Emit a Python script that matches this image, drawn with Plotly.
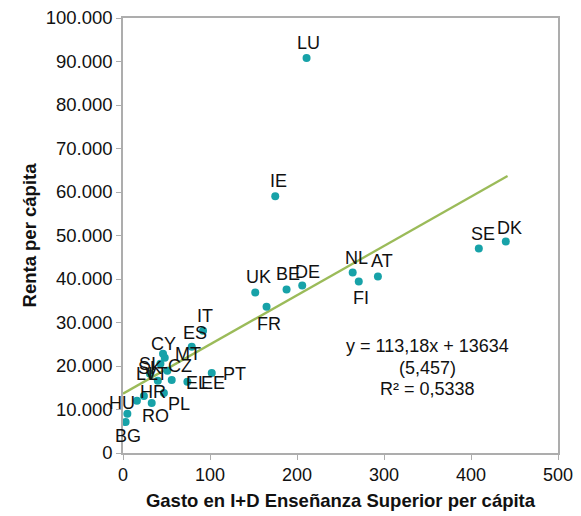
import plotly.graph_objects as go

countries = ["LU", "IE", "DK", "SE", "NL", "AT", "FI", "DE", "BE", "UK", "FR",
             "IT", "ES", "CY", "MT", "SI", "CZ", "SK", "LT", "LV", "EL", "EE",
             "PT", "PL", "HR", "HU", "RO", "BG"]
gasto = [211, 175, 440, 409, 264, 293, 271, 206, 188, 152, 165,
         92, 79, 46, 48, 43, 51, 31, 40, 47, 56, 74,
         102, 33, 24, 16, 5, 3]
renta = [90800, 59000, 48600, 47000, 41500, 40600, 39400, 38500, 37600, 36900, 33600,
         28100, 24400, 22800, 21900, 20500, 18900, 18200, 16600, 13800, 16800, 16400,
         18400, 11500, 13100, 12000, 9000, 7100]

# label offsets in pixels (dx, dy up)
label_dx = [2, 3, 4, 4, 4, 4, 2, 5, 1, 3, 2,
            2, 3, 0, 23, -13, 13, 0, 0, -17, 25, 26,
            23, 27, 9, -15, 28, 2]
label_dy = [15, 15, 14, 15, 14, 15, -16, 14, 15, 15, -17,
            15, 14, 10, 4, 0, 5, 6, 7, 19, -3, -1,
            -1, -1, 4, -2, -2, -14]

slope = 113.18
intercept = 13634
trend_x = [0, 442]
equation_lines = ["y = 113,18x + 13634", "(5,457)", "R² = 0,5338"]

x_ticks = [0, 100, 200, 300, 400, 500]
y_ticks = list(range(0, 100001, 10000))

FONT = "Liberation Sans, Arial, sans-serif"
GRID = "#ADADAD"
TXT = "#111111"

fig = go.Figure()
fig.add_trace(go.Scatter(
    x=trend_x, y=[slope * v + intercept for v in trend_x], mode="lines",
    line=dict(color="#9BBB59", width=2.3), hoverinfo="skip", showlegend=False))
fig.add_trace(go.Scatter(
    x=gasto, y=renta, mode="markers", text=countries,
    marker=dict(color="#17A2A8", size=8), showlegend=False))

for c, xv, yv, dx, dy in zip(countries, gasto, renta, label_dx, label_dy):
    fig.add_annotation(x=xv, y=yv, text=c, showarrow=False, xshift=dx, yshift=dy,
                       font=dict(family=FONT, size=18, color=TXT))

eq_y = [0.2465, 0.196, 0.147]
for line, yy in zip(equation_lines, eq_y):
    fig.add_annotation(x=0.701, y=yy, xref="paper", yref="paper",
                       xanchor="center", yanchor="middle",
                       text=line, showarrow=False,
                       font=dict(family=FONT, size=18, color=TXT))

fig.update_layout(
    width=581, height=516,
    margin=dict(l=123, r=23, t=18, b=63, autoexpand=False),
    paper_bgcolor="white", plot_bgcolor="white",
    separators=",.",
    font=dict(family=FONT, size=18, color=TXT),
    xaxis=dict(range=[0, 500], tickvals=x_ticks, showgrid=False, zeroline=False,
               showline=True, linecolor=GRID, linewidth=1.5, mirror=True,
               ticks="outside", ticklen=5, tickcolor=GRID, automargin=False,
               tickfont=dict(family=FONT, size=18, color=TXT),
               title=dict(text="<b>Gasto en I+D Enseñanza Superior per cápita</b>",
                          font=dict(family=FONT, size=18.5, color=TXT), standoff=10)),
    yaxis=dict(range=[0, 100000], tickvals=y_ticks, tickformat=",d", showgrid=False,
               zeroline=False, showline=True, linecolor=GRID, linewidth=1.5, mirror=True,
               ticks="outside", ticklen=5, tickcolor=GRID, automargin=False,
               tickfont=dict(family=FONT, size=18.5, color=TXT),
               title=dict(text="<b>Renta per cápita</b>",
                          font=dict(family=FONT, size=18.5, color=TXT), standoff=4)),
)

fig.write_html("out.html", config={"displayModeBar": False},
               post_script="document.body.style.margin='0';document.body.style.overflow='hidden';")
